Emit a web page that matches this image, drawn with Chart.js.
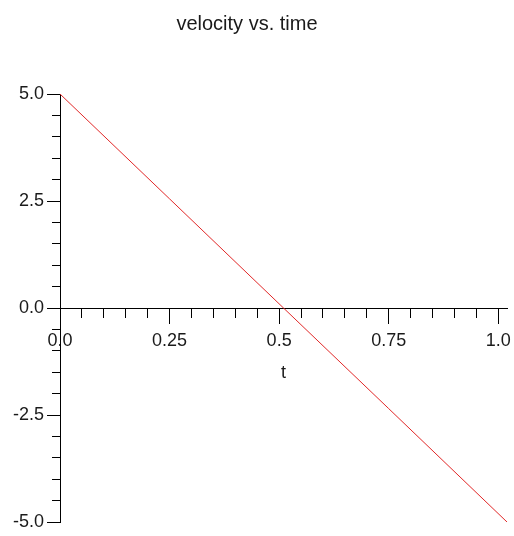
<!DOCTYPE html>
<html>
<head>
<meta charset="utf-8">
<script src="https://cdn.jsdelivr.net/npm/chart.js@4"></script>
<style>
  html, body { margin: 0; padding: 0; background: #ffffff; }
  #wrap { width: 514px; height: 536px; }
</style>
</head>
<body>
<div id="wrap"><canvas id="c" width="514" height="536"></canvas></div>
<script>
// ---- data ----
const chartTitle = "velocity vs. time";
const xAxisTitle = "t";
const timeValues = [0, 0.25, 0.51, 0.75, 1.02];
const velocityValues = [5.0, 2.55, 0.0, -2.35, -5.0];
const xMajorTicks = [0, 0.25, 0.5, 0.75, 1.0];
const xMajorLabels = ["0.0", "0.25", "0.5", "0.75", "1.0"];
const xMinorTicks = [0.05, 0.1, 0.15, 0.2, 0.3, 0.35, 0.4, 0.45, 0.55, 0.6, 0.65, 0.7, 0.8, 0.85, 0.9, 0.95];
const yMajorTicks = [-5, -2.5, 0, 2.5, 5];
const yMajorLabels = ["-5.0", "-2.5", "0.0", "2.5", "5.0"];
const yMinorTicks = [-4.5, -4, -3.5, -3, -2, -1.5, -1, -0.5, 0.5, 1, 1.5, 2, 3, 3.5, 4, 4.5];
const xRange = [0, 1.02];
const yRange = [-5, 5];

const textColor = "#1a1a1a";
const fontFamily = "'Liberation Sans', Arial, sans-serif";

function fixedTicks(values) {
  return function (scale) { scale.ticks = values.map(v => ({ value: v })); };
}

const titleShift = {
  id: 'titleShift',
  afterLayout(chart) {
    const tb = chart.titleBlock;
    if (tb) { tb.left = 0; tb.right = 494; tb.width = 494; }
  }
};

new Chart(document.getElementById('c'), {
  type: 'line',
  data: {
    datasets: [{
      data: timeValues.map((t, i) => ({ x: t, y: velocityValues[i] })),
      borderColor: 'rgb(225, 40, 40)',
      borderWidth: 1,
      pointRadius: 0,
      tension: 0,
      fill: false,
      xAxisID: 'x',
      yAxisID: 'y'
    }]
  },
  options: {
    responsive: false,
    animation: false,
    events: [],
    layout: { padding: { left: 10, right: 7, top: 0, bottom: 14 } },
    plugins: {
      legend: { display: false },
      tooltip: { enabled: false },
      title: {
        display: true,
        text: chartTitle,
        color: textColor,
        font: { family: fontFamily, size: 20, weight: 'normal' },
        padding: { top: 12, bottom: 58 }
      }
    },
    scales: {
      x: {
        type: 'linear',
        position: { y: 0 },
        min: xRange[0], max: xRange[1],
        afterBuildTicks: fixedTicks(xMajorTicks),
        grid: { drawOnChartArea: false, color: '#000', tickLength: 15, lineWidth: 1 },
        border: { display: true, color: '#000', width: 1 },
        ticks: {
          autoSkip: false, maxRotation: 0, padding: 3, color: textColor,
          font: { family: fontFamily, size: 18, lineHeight: 1.65 },
          callback: (v, i) => xMajorLabels[i]
        },
        title: {
          display: true, text: xAxisTitle, color: textColor,
          font: { family: fontFamily, size: 18 },
          padding: { top: 4, bottom: 0 }
        }
      },
      xMinor: {
        type: 'linear',
        axis: 'x',
        position: { y: 0 },
        min: xRange[0], max: xRange[1],
        afterBuildTicks: fixedTicks(xMinorTicks),
        grid: { drawOnChartArea: false, color: '#000', tickLength: 10, lineWidth: 1 },
        border: { display: false },
        ticks: { display: false }
      },
      y: {
        type: 'linear',
        position: 'left',
        min: yRange[0], max: yRange[1],
        afterBuildTicks: fixedTicks(yMajorTicks),
        grid: { drawOnChartArea: false, color: '#000', tickLength: 13, lineWidth: 1 },
        border: { display: true, color: '#000', width: 1 },
        ticks: {
          autoSkip: false, padding: 3, color: textColor,
          font: { family: fontFamily, size: 18 },
          callback: (v, i) => yMajorLabels[i]
        }
      },
      yMinor: {
        type: 'linear',
        axis: 'y',
        position: { x: 0 },
        min: yRange[0], max: yRange[1],
        afterBuildTicks: fixedTicks(yMinorTicks),
        grid: { drawOnChartArea: false, color: '#000', tickLength: 8, lineWidth: 1 },
        border: { display: false },
        ticks: { display: false }
      }
    }
  },
  plugins: [titleShift]
});
</script>
</body>
</html>
